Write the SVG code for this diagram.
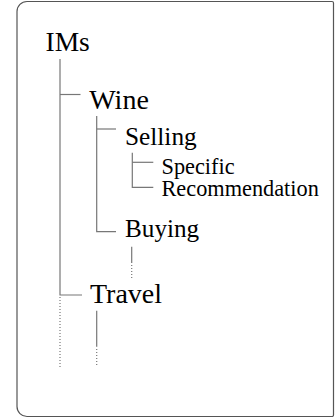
<svg xmlns="http://www.w3.org/2000/svg" width="335" height="419" viewBox="0 0 335 419">
<style>
text{font-family:'Liberation Serif','Times New Roman',serif;fill:#000}
.c{stroke:#777;stroke-width:1.2;fill:none}
.d{stroke:#777;stroke-width:1.2;fill:none;stroke-dasharray:1 2}
</style>
<rect x="0" y="0" width="335" height="419" fill="#fff"/>
<path d="M27 1.5H332A1.5 1.5 0 0 1 333.5 3V415A1.5 1.5 0 0 1 332 416.5H27A10 10 0 0 1 17 406.5V11.5A10 10 0 0 1 27 1.5Z" fill="#fff" stroke="#555" stroke-width="1.2"/>
<g id="connectors">
<path class="c" d="M60 59V295H82"/>
<path class="d" d="M60 297V368"/>
<path class="c" d="M60 94.5H80.5"/>
<path class="c" d="M96.7 116V231.7H116"/>
<path class="c" d="M96.7 129H116"/>
<path class="c" d="M132.3 152.7V187.3H153.3"/>
<path class="c" d="M132.3 162.3H153.3"/>
<path class="c" d="M131.7 246.7V263"/>
<path class="d" d="M131.7 265V280"/>
<path class="c" d="M96.7 310.7V346.7"/>
<path class="d" d="M96.7 349V367"/>
</g>
<g id="ims"><text x="45.5" y="50.7" font-size="27.5">IMs</text></g>
<g id="wine"><text x="89.3" y="109.3" font-size="28">Wine</text></g>
<g id="selling"><text x="125" y="145" font-size="25.3">Selling</text></g>
<g id="specific"><text x="161.5" y="174.3" font-size="22.3">Specific</text><text x="161.5" y="195.7" font-size="22.3">Recommendation</text></g>
<g id="buying"><text x="125" y="236.7" font-size="25.2">Buying</text></g>
<g id="travel"><text x="90" y="303.3" font-size="28">Travel</text></g>
</svg>
